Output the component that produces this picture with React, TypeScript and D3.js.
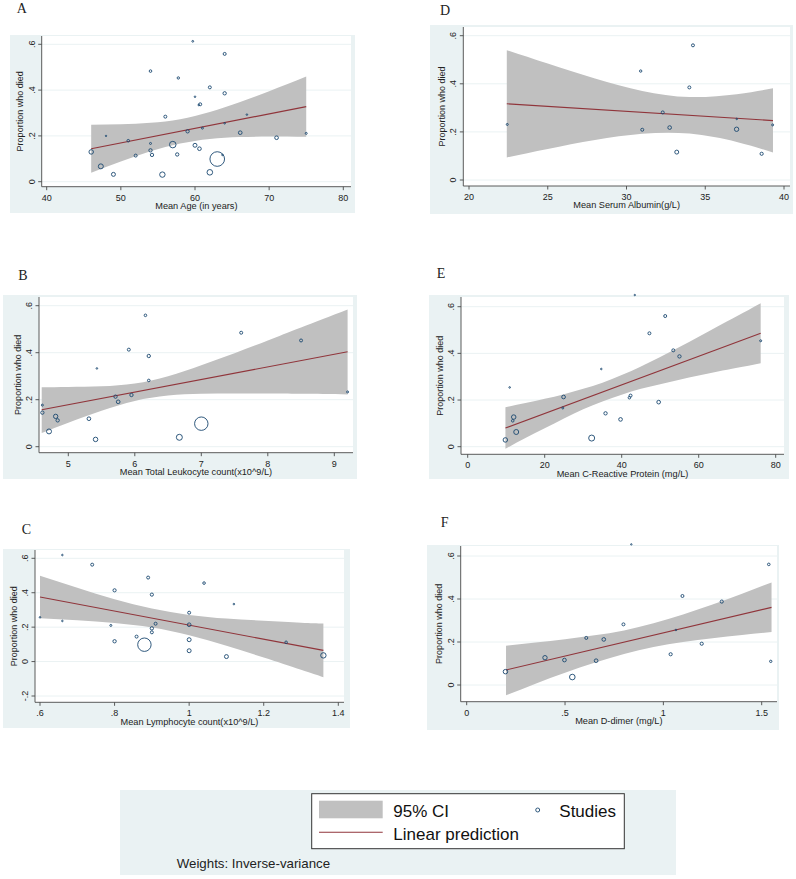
import React from "react";
import * as d3 from "d3";

// ---------- Panel A: Mean Age ----------
const ageX = [46, 47.3, 48, 49, 51, 52, 54, 54, 54, 54.2, 55.6, 56, 57, 57.6, 57.75, 59, 59.7, 60, 60, 60.5, 60.7, 60.6, 61, 62, 62, 63, 64, 64, 64, 66.1, 67, 71, 75, 63.7];
const ageY = [0.13, 0.067, 0.2, 0.032, 0.179, 0.114, 0.483, 0.167, 0.137, 0.117, 0.031, 0.284, 0.162, 0.119, 0.453, 0.22, 0.613, 0.371, 0.159, 0.335, 0.338, 0.144, 0.234, 0.412, 0.041, 0.099, 0.558, 0.386, 0.255, 0.214, 0.293, 0.192, 0.211, 0.117];
const ageW = [9, 11, 0.9, 7, 3, 4, 3, 1.8, 5, 5, 13, 4, 19, 5, 2.5, 5, 1.4, 1.1, 7, 1.1, 4, 6, 1.8, 4, 14, 95, 4, 5, 1.1, 6, 1.1, 6, 1.8, 1.1];
const ageFitX = [46, 75];
const ageFitY = [0.144, 0.328];
const ageCiX = [46, 50, 54, 58, 62, 66, 70, 75];
const ageCiLo = [0.039, 0.088, 0.133, 0.167, 0.187, 0.195, 0.197, 0.196];
const ageCiHi = [0.249, 0.251, 0.257, 0.273, 0.304, 0.347, 0.395, 0.459];
const ageTicks = [40, 50, 60, 70, 80];
const ageTickLabels = ["40", "50", "60", "70", "80"];

// ---------- Panel D: Serum Albumin ----------
const albX = [22.43, 30.9, 31.0, 32.3, 32.74, 33.19, 33.99, 34.22, 36.99, 37.0, 38.58, 39.28];
const albY = [0.231, 0.453, 0.209, 0.281, 0.218, 0.116, 0.385, 0.56, 0.211, 0.254, 0.109, 0.229];
const albW = [1.8, 2.5, 4, 4, 6, 7, 4, 4, 8.5, 1.1, 4.5, 1.8];
const albFitX = [22.4, 39.3];
const albFitY = [0.317, 0.247];
const albCiX = [22.4, 25, 28, 31, 34, 37, 39.3];
const albCiLo = [0.094, 0.129, 0.166, 0.192, 0.193, 0.158, 0.114];
const albCiHi = [0.54, 0.484, 0.422, 0.37, 0.345, 0.357, 0.381];
const albTicks = [20, 25, 30, 35, 40];
const albTickLabels = ["20", "25", "30", "35", "40"];

// ---------- Panel B: Leukocyte ----------
const wbcX = [4.61, 4.61, 4.71, 4.81, 4.84, 5.31, 5.41, 5.43, 5.71, 5.75, 5.91, 5.95, 6.16, 6.21, 6.21, 6.67, 7.0, 7.6, 8.5, 9.2];
const wbcY = [0.177, 0.145, 0.065, 0.129, 0.112, 0.119, 0.031, 0.333, 0.213, 0.191, 0.413, 0.22, 0.559, 0.386, 0.282, 0.04, 0.098, 0.485, 0.452, 0.233];
const wbcW = [1.8, 5, 11, 8.5, 5, 6, 9, 1.1, 5, 6, 4, 5, 3, 5, 3, 16, 80, 4, 4, 1.8];
const wbcFitX = [4.6, 9.2];
const wbcFitY = [0.157, 0.404];
const wbcCiX = [4.6, 5.0, 5.5, 6.0, 6.5, 7.0, 7.5, 8.0, 8.5, 9.2];
const wbcCiLo = [0.058, 0.102, 0.153, 0.195, 0.218, 0.225, 0.226, 0.226, 0.225, 0.222];
const wbcCiHi = [0.253, 0.254, 0.257, 0.269, 0.3, 0.347, 0.398, 0.452, 0.507, 0.584];
const wbcTicks = [5, 6, 7, 8, 9];
const wbcTickLabels = ["5", "6", "7", "8", "9"];

// ---------- Panel E: CRP ----------
const crpX = [9.78, 10.9, 11.7, 11.95, 12.6, 24.7, 24.9, 32.2, 34.7, 35.8, 39.7, 42.0, 42.3, 43.4, 47.2, 49.6, 51.3, 53.4, 55.0, 76.1];
const crpY = [0.029, 0.254, 0.111, 0.127, 0.063, 0.166, 0.213, 0.037, 0.333, 0.143, 0.117, 0.21, 0.219, 0.65, 0.486, 0.191, 0.56, 0.413, 0.387, 0.454];
const crpW = [9, 1.1, 3, 9, 11, 1.8, 6, 16, 1.1, 5, 6, 3, 4, 0.9, 4, 6, 4, 4, 5, 1.8];
const crpFitX = [9.8, 76.1];
const crpFitY = [0.08, 0.486];
const crpCiX = [9.8, 15, 20, 25, 30, 35, 40, 45, 50, 55, 60, 65, 70, 76.1];
const crpCiLo = [-0.009, 0.037, 0.079, 0.121, 0.16, 0.194, 0.223, 0.248, 0.268, 0.287, 0.305, 0.322, 0.338, 0.358];
const crpCiHi = [0.169, 0.187, 0.205, 0.225, 0.248, 0.274, 0.307, 0.344, 0.384, 0.427, 0.471, 0.516, 0.56, 0.615];
const crpTicks = [0, 20, 40, 60, 80];
const crpTickLabels = ["0", "20", "40", "60", "80"];

// ---------- Panel C: Lymphocyte ----------
const lymX = [0.6, 0.66, 0.66, 0.74, 0.79, 0.8, 0.8, 0.859, 0.88, 0.89, 0.9, 0.9, 0.9, 0.91, 1.0, 1.0, 1.0, 1.0, 1.04, 1.1, 1.12, 1.26, 1.36];
const lymY = [0.257, 0.619, 0.236, 0.563, 0.21, 0.414, 0.118, 0.145, 0.098, 0.488, 0.389, 0.193, 0.17, 0.22, 0.284, 0.214, 0.127, 0.063, 0.456, 0.029, 0.334, 0.112, 0.036];
const lymW = [1.1, 1.1, 1.1, 4, 1.8, 4.5, 5, 4, 80, 4, 4.5, 5, 4, 4, 4, 6, 7, 7, 3, 7, 1.1, 3, 13];
const lymFitX = [0.6, 1.36];
const lymFitY = [0.375, 0.065];
const lymCiX = [0.6, 0.7, 0.8, 0.9, 1.0, 1.1, 1.2, 1.3, 1.36];
const lymCiLo = [0.251, 0.24, 0.224, 0.198, 0.153, 0.092, 0.023, -0.048, -0.091];
const lymCiHi = [0.499, 0.429, 0.362, 0.308, 0.271, 0.25, 0.237, 0.226, 0.221];
const lymTicks = [0.6, 0.8, 1.0, 1.2, 1.4];
const lymTickLabels = [".6", ".8", "1", "1.2", "1.4"];

// ---------- Panel F: D-dimer ----------
const ddX = [0.197, 0.398, 0.497, 0.537, 0.608, 0.658, 0.697, 0.797, 0.837, 1.037, 1.064, 1.097, 1.195, 1.297, 1.536, 1.546];
const ddY = [0.062, 0.127, 0.116, 0.037, 0.219, 0.113, 0.212, 0.282, 0.654, 0.143, 0.256, 0.414, 0.192, 0.388, 0.561, 0.11];
const ddW = [9, 8.5, 6, 14, 4, 6, 6, 4, 0.9, 4.5, 1.1, 4, 4.5, 4.5, 3, 2.5];
const ddFitX = [0.2, 1.55];
const ddFitY = [0.07, 0.361];
const ddCiX = [0.2, 0.35, 0.5, 0.65, 0.8, 0.95, 1.1, 1.25, 1.4, 1.55];
const ddCiLo = [-0.048, 0.006, 0.057, 0.103, 0.144, 0.177, 0.2, 0.218, 0.233, 0.246];
const ddCiHi = [0.183, 0.198, 0.213, 0.231, 0.254, 0.287, 0.328, 0.374, 0.425, 0.477];
const ddTicks = [0, 0.5, 1, 1.5];
const ddTickLabels = ["0", ".5", "1", "1.5"];

// ---------- shared ----------
const yTicksStd = [0, 0.2, 0.4, 0.6];
const yTickLabelsStd = ["0", ".2", ".4", ".6"];
const yTicksLym = [-0.2, 0, 0.2, 0.4, 0.6];
const yTickLabelsLym = ["-.2", "0", ".2", ".4", ".6"];
const yTitle = "Proportion who died";
const legendLabels = ["95% CI", "Studies", "Linear prediction"];
const noteText = "Weights: Inverse-variance";

const BG = "#eaf2f3";
const NAVY = "#1a476f";
const RED = "#90353b";
const BAND = "#c0c0c0";
const AXIS = "#4a4a4a";
const SANS = "'Liberation Sans', Arial, Helvetica, sans-serif";
const SERIF = "'Liberation Serif', 'Times New Roman', serif";

const panels = [
  {
    letter: "A", xs: ageX, ys: ageY, ws: ageW, fitX: ageFitX, fitY: ageFitY, ciX: ageCiX, ciLo: ageCiLo, ciHi: ageCiHi,
    xt: ageTicks, xtl: ageTickLabels, yt: yTicksStd, ytl: yTickLabelsStd, xTitle: "Mean Age (in years)",
    bg: [10, 35, 355, 213], plot: [41.7, 36, 351, 186.7], xd: [40, 80], xr: [46.7, 343.3], yd: [0, 0.6], yr: [181.7, 44.3], lp: [16.7, 13.3],
  },
  {
    letter: "D", xs: albX, ys: albY, ws: albW, fitX: albFitX, fitY: albFitY, ciX: albCiX, ciLo: albCiLo, ciHi: albCiHi,
    xt: albTicks, xtl: albTickLabels, yt: yTicksStd, ytl: yTickLabelsStd, xTitle: "Mean Serum Albumin(g/L)",
    bg: [430, 25, 793, 214], plot: [463.3, 27, 790, 186], xd: [20, 40], xr: [469, 784], yd: [0, 0.6], yr: [180, 35.7], lp: [440, 15],
  },
  {
    letter: "B", xs: wbcX, ys: wbcY, ws: wbcW, fitX: wbcFitX, fitY: wbcFitY, ciX: wbcCiX, ciLo: wbcCiLo, ciHi: wbcCiHi,
    xt: wbcTicks, xtl: wbcTickLabels, yt: yTicksStd, ytl: yTickLabelsStd, xTitle: "Mean Total Leukocyte count(x10^9/L)",
    bg: [3, 295, 357, 479], plot: [39, 297, 353, 452.7], xd: [5, 9], xr: [68.3, 334.3], yd: [0, 0.6], yr: [446.7, 305.7], lp: [18.3, 280],
  },
  {
    letter: "E", xs: crpX, ys: crpY, ws: crpW, fitX: crpFitX, fitY: crpFitY, ciX: crpCiX, ciLo: crpCiLo, ciHi: crpCiHi,
    xt: crpTicks, xtl: crpTickLabels, yt: yTicksStd, ytl: yTickLabelsStd, xTitle: "Mean C-Reactive Protein (mg/L)",
    bg: [429, 295, 789, 479], plot: [461, 297, 784, 454.3], xd: [0, 80], xr: [467.7, 775.7], yd: [0, 0.6], yr: [446.7, 306.7], lp: [436.7, 278],
  },
  {
    letter: "C", xs: lymX, ys: lymY, ws: lymW, fitX: lymFitX, fitY: lymFitY, ciX: lymCiX, ciLo: lymCiLo, ciHi: lymCiHi,
    xt: lymTicks, xtl: lymTickLabels, yt: yTicksLym, ytl: yTickLabelsLym, xTitle: "Mean Lymphocyte count(x10^9/L)",
    bg: [3, 549, 350, 728], plot: [35, 550, 344, 702.3], xd: [0.6, 1.4], xr: [40, 338.3], yd: [-0.2, 0.6], yr: [696, 558.3], lp: [21.7, 534],
  },
  {
    letter: "F", xs: ddX, ys: ddY, ws: ddW, fitX: ddFitX, fitY: ddFitY, ciX: ddCiX, ciLo: ddCiLo, ciHi: ddCiHi,
    xt: ddTicks, xtl: ddTickLabels, yt: yTicksStd, ytl: yTickLabelsStd, xTitle: "Mean D-dimer (mg/L)",
    bg: [427, 545, 779, 730], plot: [460.7, 546, 777, 701.7], xd: [0, 1.5], xr: [466.7, 761.7], yd: [0, 0.6], yr: [685, 556], lp: [440.7, 527],
  },
];

const rScale = d3.scaleSqrt().domain([0, 100]).range([0, 7.5]);

function Panel({ p }: { p: any }) {
  const x = d3.scaleLinear().domain(p.xd).range(p.xr);
  const y = d3.scaleLinear().domain(p.yd).range(p.yr);
  const [bx0, by0, bx1, by1] = p.bg;
  const [px0, py0, px1, py1] = p.plot;
  const idx = p.ciX.map((_: number, i: number) => i);
  const area = d3
    .area<number>()
    .x((i) => x(p.ciX[i]))
    .y0((i) => y(p.ciLo[i]))
    .y1((i) => y(p.ciHi[i]))
    .curve(d3.curveNatural);
  const fitIdx = p.fitX.map((_: number, i: number) => i);
  const line = d3
    .line<number>()
    .x((i) => x(p.fitX[i]))
    .y((i) => y(p.fitY[i]));
  const pts = p.xs.map((v: number, i: number) => ({ x: v, y: p.ys[i], w: p.ws[i] }));
  const tick = 3.5;
  return (
    <g>
      <text x={p.lp[0]} y={p.lp[1]} fontFamily={SERIF} fontSize={14} fill="#222">
        {p.letter}
      </text>
      <rect x={bx0} y={by0} width={bx1 - bx0} height={by1 - by0} fill={BG} />
      <rect x={px0} y={py0} width={px1 - px0} height={py1 - py0} fill="#fff" />
      {p.yt.map((t: number) => (
        <line key={"g" + t} x1={px0} x2={px1} y1={y(t)} y2={y(t)} stroke={BG} strokeWidth={1} />
      ))}
      <path d={area(idx) || ""} fill={BAND} stroke="none" />
      <path d={line(fitIdx) || ""} fill="none" stroke={RED} strokeWidth={1.1} />
      {pts.map((d: any, i: number) => (
        <circle key={i} cx={x(d.x)} cy={y(d.y)} r={rScale(d.w)} fill="none" stroke={NAVY} strokeWidth={0.9} />
      ))}
      {/* y axis */}
      <line x1={px0} x2={px0} y1={py0} y2={py1} stroke={AXIS} strokeWidth={0.9} />
      {p.yt.map((t: number, i: number) => (
        <g key={"yt" + t}>
          <line x1={px0 - tick} x2={px0} y1={y(t)} y2={y(t)} stroke={AXIS} strokeWidth={0.9} />
          <text
            transform={`translate(${px0 - 7.2},${y(t)}) rotate(-90)`}
            textAnchor="middle"
            fontFamily={SANS}
            fontSize={9}
            fill="#222"
          >
            {p.ytl[i]}
          </text>
        </g>
      ))}
      <text
        transform={`translate(${px0 - 18.3},${(py0 + py1) / 2}) rotate(-90)`}
        textAnchor="middle"
        fontFamily={SANS}
        fontSize={9}
        fill="#222"
      >
        {yTitle}
      </text>
      {/* x axis */}
      <line x1={px0} x2={px1} y1={py1} y2={py1} stroke={AXIS} strokeWidth={0.9} />
      {p.xt.map((t: number, i: number) => (
        <g key={"xt" + t}>
          <line x1={x(t)} x2={x(t)} y1={py1} y2={py1 + tick} stroke={AXIS} strokeWidth={0.9} />
          <text x={x(t)} y={py1 + 14} textAnchor="middle" fontFamily={SANS} fontSize={9} fill="#222">
            {p.xtl[i]}
          </text>
        </g>
      ))}
      <text x={(px0 + px1) / 2} y={py1 + 22.3} textAnchor="middle" fontFamily={SANS} fontSize={9.2} fill="#222">
        {p.xTitle}
      </text>
    </g>
  );
}

export default function App() {
  return (
    <svg
      width={796}
      height={879}
      style={{ position: "absolute", left: 0, top: 0, background: "#fff" }}
      xmlns="http://www.w3.org/2000/svg"
    >
      <rect x={0} y={0} width={796} height={879} fill="#fff" />
      {panels.map((p) => (
        <Panel key={p.letter} p={p} />
      ))}
      {/* legend band */}
      <rect x={120} y={790} width={556} height={85} fill={BG} />
      <rect x={311.7} y={793.7} width={312.6} height={55} fill="#fff" stroke="#333" strokeWidth={1} />
      <rect x={319} y={800.7} width={63.7} height={17.6} fill={BAND} />
      <text x={393.3} y={817.3} fontFamily={SANS} fontSize={17} fill="#111">
        {legendLabels[0]}
      </text>
      <circle cx={537.7} cy={810} r={rScale(7)} fill="none" stroke={NAVY} strokeWidth={0.9} />
      <text x={559.3} y={817.3} fontFamily={SANS} fontSize={17} fill="#111">
        {legendLabels[1]}
      </text>
      <line x1={319} x2={382.7} y1={832.3} y2={832.3} stroke={RED} strokeWidth={1.1} />
      <text x={393.3} y={839.5} fontFamily={SANS} fontSize={17} fill="#111">
        {legendLabels[2]}
      </text>
      <text x={176.7} y={868.3} fontFamily={SANS} fontSize={13.3} fill="#222">
        {noteText}
      </text>
    </svg>
  );
}
